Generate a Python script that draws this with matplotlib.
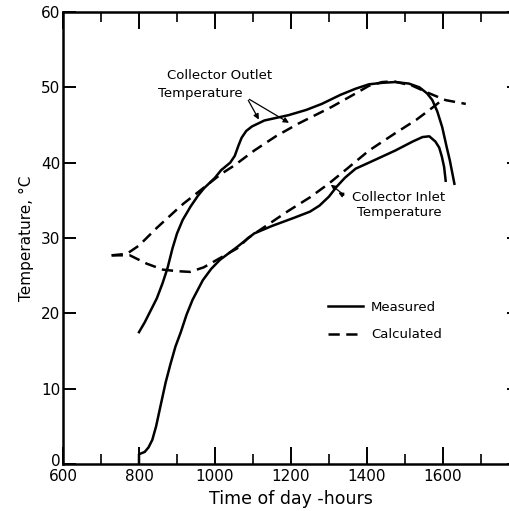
import matplotlib.pyplot as plt
import matplotlib.transforms as mtransforms
from matplotlib.ticker import MultipleLocator

# Collector outlet, measured
out_meas_t = [800, 815, 830, 847, 862, 875, 888, 900, 915, 936, 955, 971, 1000, 1016,
              1040, 1052, 1062, 1070, 1082, 1097, 1130, 1193, 1240, 1281, 1330, 1369,
              1405, 1440, 1474, 1510, 1538, 1558, 1572, 1585, 1598, 1610, 1618, 1630]
out_meas_T = [17.5, 18.8, 20.3, 22.0, 24.0, 26.0, 28.6, 30.6, 32.4, 34.2, 35.6, 36.6,
              38.0, 39.0, 40.0, 40.9, 42.3, 43.3, 44.2, 44.8, 45.6, 46.3, 47.0, 47.8,
              49.0, 49.8, 50.4, 50.6, 50.7, 50.5, 50.0, 49.2, 48.3, 46.8, 44.7, 42.0,
              40.3, 37.2]

# Collector outlet, calculated
out_calc_t = [728, 768, 800, 848, 900, 918, 971, 1016, 1050, 1103, 1160, 1220, 1307,
              1360, 1405, 1440, 1470, 1520, 1564, 1607, 1660]
out_calc_T = [27.7, 27.9, 29.0, 31.4, 33.8, 34.6, 36.7, 38.5, 39.6, 41.6, 43.5, 45.2,
              47.4, 48.9, 50.2, 50.7, 50.8, 50.2, 49.2, 48.3, 47.8]

# Collector inlet, calculated
in_calc_t = [728, 776, 820, 863, 900, 934, 970, 1005, 1061, 1087, 1140, 1193, 1250,
             1299, 1350, 1405, 1474, 1530, 1572, 1600]
in_calc_T = [27.7, 27.7, 26.6, 25.8, 25.6, 25.5, 26.1, 27.1, 28.7, 30.0, 31.8, 33.6,
             35.4, 37.2, 39.3, 41.6, 43.9, 45.7, 47.3, 48.4]

# Collector inlet, measured
in_meas_t = [800, 800, 815, 825, 835, 845, 857, 870, 883, 896, 910, 925, 941, 968, 990,
             1013, 1058, 1103, 1150, 1209, 1250, 1275, 1300, 1320, 1342, 1370, 1405,
             1474, 1520, 1546, 1564, 1580, 1590, 1597, 1603, 1607]
in_meas_T = [0.0, 1.3, 1.6, 2.2, 3.2, 5.0, 7.8, 10.8, 13.3, 15.6, 17.5, 19.8, 21.8,
             24.4, 25.9, 27.1, 28.8, 30.6, 31.6, 32.7, 33.5, 34.3, 35.5, 36.8, 38.0,
             39.2, 40.0, 41.6, 42.8, 43.4, 43.5, 42.8, 42.0, 40.8, 39.4, 37.6]

x_ticks = [600, 800, 1000, 1200, 1400, 1600, 1800]
x_tick_labels = ['600', '800', '1000', '1200', '1400', '1600', '']
y_ticks = [0, 10, 20, 30, 40, 50, 60]

fig = plt.figure(figsize=(5.10, 5.11), dpi=100)
ax = fig.add_axes([63 / 510, 47 / 511, 456 / 510, 452 / 511])

lw = 1.8
dash = (0, (4.5, 2.6))
ax.plot(out_meas_t, out_meas_T, color='black', lw=lw, label='Measured')
ax.plot(in_meas_t, in_meas_T, color='black', lw=lw)
ax.plot(out_calc_t, out_calc_T, color='black', lw=lw, linestyle=dash, label='Calculated')
ax.plot(in_calc_t, in_calc_T, color='black', lw=lw, linestyle=dash)

ax.set_xlim(600, 1800)
ax.set_ylim(0, 60)

# Ticks inward on all sides
ax.set_xticks(x_ticks)
ax.set_xticklabels(x_tick_labels)
ax.set_yticks(y_ticks)
ax.xaxis.set_minor_locator(MultipleLocator(100))
ax.tick_params(axis='x', which='major', direction='in', length=12, width=1.4,
               top=True, labelsize=11, pad=3.5)
ax.tick_params(axis='x', which='minor', direction='in', length=7, width=1.2, top=True)
ax.tick_params(axis='y', which='major', direction='in', length=9, width=1.4,
               right=True, labelsize=11, pad=2)
for s in ax.spines.values():
    s.set_linewidth(1.8)

# lift the "0" label a little so it clears "600"
zero_lbl = ax.yaxis.get_major_ticks()[0].label1
zero_lbl.set_transform(zero_lbl.get_transform() +
                       mtransforms.ScaledTranslation(0, 4 / 100, fig.dpi_scale_trans))

ax.set_xlabel('Time of day -hours', fontsize=12.5, labelpad=4.5)
ax.set_ylabel('Temperature, °C', fontsize=11, labelpad=5)

# Annotations
ax.text(874, 51.6, 'Collector Outlet', fontsize=9.5, ha='left', va='center')
ax.text(850, 49.2, 'Temperature', fontsize=9.5, ha='left', va='center')
ax.annotate('', xy=(1119, 45.4), xytext=(1084, 48.6),
            arrowprops=dict(arrowstyle='-|>', color='black', lw=0.9, mutation_scale=8))
ax.annotate('', xy=(1201, 45.1), xytext=(1084, 48.6),
            arrowprops=dict(arrowstyle='-|>', color='black', lw=0.9, mutation_scale=8))

ax.text(1361, 35.4, 'Collector Inlet', fontsize=9.5, ha='left', va='center')
ax.text(1374, 33.4, 'Temperature', fontsize=9.5, ha='left', va='center')
ax.annotate('', xy=(1318, 36.2), xytext=(1345, 35.5),
            arrowprops=dict(arrowstyle='-|>', color='black', lw=0.9, mutation_scale=7))
ax.annotate('', xy=(1299, 37.3), xytext=(1345, 35.5),
            arrowprops=dict(arrowstyle='-|>', color='black', lw=0.9, mutation_scale=7))

ax.legend(loc='upper left', bbox_to_anchor=(0.581, 0.361), frameon=False, fontsize=9.5,
          handlelength=2.65, handletextpad=0.6, labelspacing=1.1,
          borderaxespad=0, borderpad=0)

fig.savefig('out.png', dpi=100)
